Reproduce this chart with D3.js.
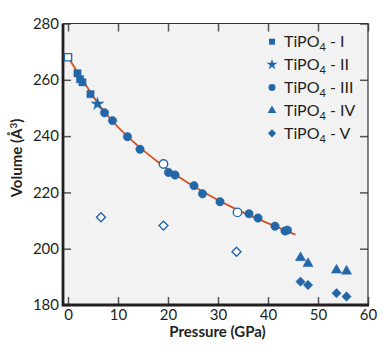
<!DOCTYPE html>
<meta charset="utf-8">
<html>
<script src="https://d3js.org/d3.v7.min.js"></script>
<style>
  body { margin: 0; background: #fff; }
  text { font-family: "Lato", "Open Sans", sans-serif; fill: #231f20; }
</style>
<body>
<div id="chart"></div>
<script>
// data (pressure GPa, volume A^3)
const phaseI_P = [1.9, 2.4, 2.9, 4.5];
const phaseI_V = [262.3, 260.2, 259.1, 254.9];
const phaseI_openP = [0];
const phaseI_openV = [268];
const phaseII_P = [5.9];
const phaseII_V = [251.4];
const phaseIII_P = [7.3, 8.9, 11.9, 14.4, 20.1, 21.4, 25.2, 26.9, 30.4, 36.2, 38.0, 41.4, 43.4, 43.9];
const phaseIII_V = [248.3, 245.5, 239.8, 235.3, 227.1, 226.2, 222.4, 219.5, 216.7, 212.4, 210.9, 208.0, 206.3, 206.6];
const phaseIII_openP = [19.1, 33.9];
const phaseIII_openV = [230.1, 212.9];
const phaseIV_P = [46.5, 48.0, 53.7, 55.7];
const phaseIV_V = [196.8, 194.7, 192.4, 192.0];
const phaseV_P = [46.5, 48.0, 53.7, 55.7];
const phaseV_V = [188.3, 187.1, 184.2, 183.0];
const phaseV_openP = [6.6, 19.1, 33.7];
const phaseV_openV = [211.2, 208.2, 198.9];
// fitted curve, points
const fitP = [0, 3, 6, 9, 12, 15, 18, 21, 24, 27, 30, 33, 36, 39, 42, 45.5];
const fitV = [268, 259.7, 251.6, 245.1, 239.7, 235.0, 230.8, 226.9, 223.4, 220.2, 217.3, 214.6, 212.1, 209.8, 207.6, 205.0];
const xTicks = [0, 10, 20, 30, 40, 50, 60];
const yTicks = [180, 200, 220, 240, 260, 280];
const legendNames = ["I", "II", "III", "IV", "V"];

const W = 388, H = 354;
const pl = 63, pr = 368, pt = 23.5, pb = 305;
const blue = "#2467a9";

const svg = d3.select("#chart").append("svg")
  .attr("width", W).attr("height", H);

const x = d3.scaleLinear().domain([-1, 60]).range([pl, pr]);
const y = d3.scaleLinear().domain([180, 280]).range([pb, pt]);

// plot background
svg.append("rect")
  .attr("x", pl).attr("y", pt)
  .attr("width", pr - pl).attr("height", pb - pt)
  .attr("fill", "#f2f2f2");

// axes with inward ticks
const tk = 8;
svg.append("g").attr("transform", `translate(0,${pb})`)
  .call(d3.axisBottom(x).tickValues(xTicks).tickSize(-tk).tickPadding(4).tickFormat(d3.format("d")));
svg.append("g").attr("transform", `translate(${pl},0)`)
  .call(d3.axisLeft(y).tickValues(yTicks).tickSize(-tk).tickPadding(4).tickFormat(d3.format("d")));
svg.append("g").attr("transform", `translate(0,${pt})`)
  .call(d3.axisTop(x).tickValues(xTicks).tickSize(-tk).tickFormat(""));
svg.append("g").attr("transform", `translate(${pr},0)`)
  .call(d3.axisRight(y).tickValues(yTicks).tickSize(-tk).tickFormat(""));

svg.selectAll(".domain").remove();
svg.selectAll(".tick line").attr("stroke", "#555").attr("stroke-width", 1.5);
svg.selectAll(".tick text").style("font-size", "15px").attr("fill", "#231f20")
  .style("font-family", "Lato, sans-serif");

// frame: thin top/right, thick left/bottom
svg.append("path")
  .attr("d", `M${pl},${pt}H${pr}V${pb}`)
  .attr("fill", "none").attr("stroke", "#333").attr("stroke-width", 1.2);
svg.append("path")
  .attr("d", `M${pl},${pt}V${pb}H${pr + 1}`)
  .attr("fill", "none").attr("stroke", "#231f20").attr("stroke-width", 2.8);

// fit line
const line = d3.line().x(d => x(d[0])).y(d => y(d[1])).curve(d3.curveMonotoneX);
svg.append("path")
  .datum(d3.zip(fitP, fitV))
  .attr("d", line)
  .attr("fill", "none").attr("stroke", "#d4511f").attr("stroke-width", 1.8);

const sym = {
  I: d3.symbol().type(d3.symbolSquare).size(52),
  II: d3.symbol().type(d3.symbolStar).size(50),
  III: d3.symbol().type(d3.symbolCircle).size(56),
  IV: d3.symbol().type(d3.symbolTriangle).size(45),
  V: d3.symbol().type(d3.symbolSquare).size(44)
};

function points(P, V, s, open, rot) {
  svg.append("g").selectAll("path")
    .data(d3.zip(P, V))
    .join("path")
    .attr("transform", d => `translate(${x(d[0])},${y(d[1])}) rotate(${rot || 0})`)
    .attr("d", s)
    .attr("fill", open ? "#fff" : blue)
    .attr("stroke", blue)
    .attr("stroke-width", open ? 1.4 : 0.5);
}
points(phaseI_P, phaseI_V, sym.I, false);
points(phaseI_openP, phaseI_openV, sym.I, true);
points(phaseII_P, phaseII_V, sym.II, false);
points(phaseIII_P, phaseIII_V, sym.III, false);
points(phaseIII_openP, phaseIII_openV, sym.III, true);
points(phaseIV_P, phaseIV_V, sym.IV, false);
points(phaseV_P, phaseV_V, sym.V, false, 45);
points(phaseV_openP, phaseV_openV, d3.symbol().type(d3.symbolSquare).size(40), true, 45);

// legend
const leg = svg.append("g");
const legTypes = [d3.symbolSquare, d3.symbolStar, d3.symbolCircle, d3.symbolTriangle, d3.symbolSquare];
const legSizes = [36, 36, 38, 32, 34];
legendNames.forEach((n, i) => {
  const ly = 41.7 + i * 22.9;
  leg.append("path")
    .attr("transform", `translate(272,${ly}) rotate(${i == 4 ? 45 : 0})`)
    .attr("d", d3.symbol().type(legTypes[i]).size(legSizes[i]))
    .attr("fill", blue);
  const t = leg.append("text").attr("x", 284).attr("y", ly + 5.5).style("font-size", "16px");
  t.append("tspan").text("TiPO");
  t.append("tspan").attr("dy", 4).style("font-size", "11px").text("4");
  t.append("tspan").attr("dy", -4).text(" - " + n);
});

// axis titles
svg.append("text")
  .attr("x", (pl + pr) / 2 + 2).attr("y", 337)
  .attr("text-anchor", "middle")
  .style("font-size", "15px").style("font-weight", "bold")
  .text("Pressure (GPa)");

const yt = svg.append("text")
  .attr("transform", "translate(22,158) rotate(-90)")
  .attr("text-anchor", "middle")
  .style("font-size", "15px").style("font-weight", "bold");
yt.append("tspan").text("Volume (Å");
yt.append("tspan").attr("dy", -5).style("font-size", "10px").text("3");
yt.append("tspan").attr("dy", 5).text(")");
</script>
</body>
</html>
